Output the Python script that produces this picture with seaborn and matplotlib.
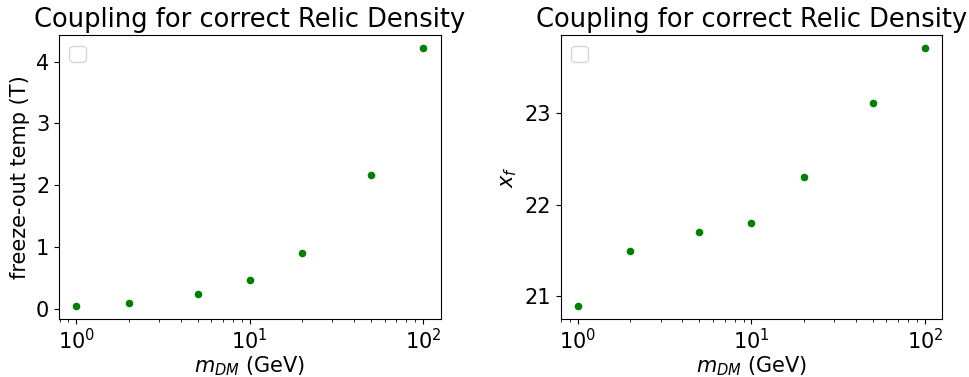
import matplotlib
matplotlib.use("Agg")
import matplotlib.pyplot as plt
import seaborn as sns
import pandas as pd

# Dark matter mass scan and the resulting freeze-out quantities
m_dm = [1, 2, 5, 10, 20, 50, 100]
freeze_temp = [0.048, 0.093, 0.23, 0.459, 0.897, 2.16, 4.22]
x_f = [20.9, 21.5, 21.7, 21.8, 22.3, 23.1, 23.7]

title = "Coupling for correct Relic Density"
xlabel = "$m_{DM}$ (GeV)"
ylabels = ["freeze-out temp (T)", "$x_f$"]

plt.rcParams["font.size"] = 15

df = pd.DataFrame({"m": m_dm, "T": freeze_temp, "xf": x_f})

fig = plt.figure(figsize=(9.69, 3.77), dpi=100)
ax1 = fig.add_axes([0.0609, 0.155, 0.3937, 0.7514])
ax2 = fig.add_axes([0.5786, 0.155, 0.3938, 0.7514])

for ax, col, ylab in zip([ax1, ax2], ["T", "xf"], ylabels):
    sns.scatterplot(data=df, x="m", y=col, ax=ax, color="green", s=30,
                    linewidth=0, legend=False)
    ax.set_xscale("log")
    ax.set_title(title, fontsize=18.5)
    ax.set_xlabel(xlabel, labelpad=1)
    ax.set_ylabel(ylab)
    ax.legend(loc="upper left")

fig.savefig("out.png", dpi=100)
